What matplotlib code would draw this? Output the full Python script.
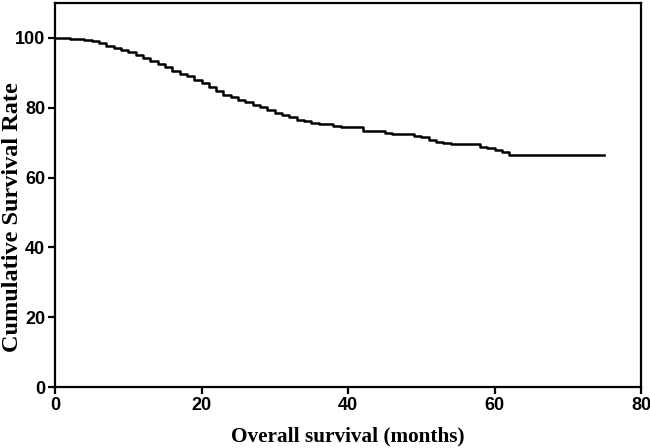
import matplotlib
matplotlib.use("Agg")
import matplotlib.pyplot as plt

# Kaplan-Meier style overall survival curve
months = [0, 2, 4, 5, 6, 7, 8, 9, 10, 11, 12, 13, 14, 15, 16, 17, 18, 19, 20,
          21, 22, 23, 24, 25, 26, 27, 28, 29, 30, 31, 32, 33, 34, 35, 36, 37,
          38, 39, 41, 42, 44, 45, 46, 48, 49, 50, 51, 52, 53, 54, 57, 58, 59,
          60, 61, 62, 75]
survival = [100, 99.8, 99.4, 99.0, 98.4, 97.8, 97.2, 96.5, 96.0, 95.2, 94.2,
            93.4, 92.6, 91.6, 90.6, 89.8, 89.0, 88.0, 87.0, 85.8, 84.7, 83.7,
            83.0, 82.3, 81.6, 80.9, 80.1, 79.3, 78.6, 77.9, 77.3, 76.6, 76.1,
            75.7, 75.4, 75.2, 74.9, 74.4, 74.4, 73.3, 73.3, 72.8, 72.5, 72.4,
            72.0, 71.5, 70.8, 70.2, 69.8, 69.6, 69.6, 68.8, 68.4, 67.8, 67.3,
            66.4, 66.4]

x_ticks = [0, 20, 40, 60, 80]
y_ticks = [0, 20, 40, 60, 80, 100]

tick_font = ["Liberation Sans Narrow", "Liberation Sans", "DejaVu Sans"]
label_font = ["Liberation Serif", "DejaVu Serif"]

fig = plt.figure(figsize=(6.5, 4.48), dpi=100)
ax = fig.add_axes([55 / 650, 1 - 387 / 448, (641 - 55) / 650, (387 - 3) / 448])

ax.step(months, survival, where="post", color="k", linewidth=1.8)

ax.set_xlim(0, 80)
ax.set_ylim(0, 110)
ax.set_xticks(x_ticks)
ax.set_yticks(y_ticks)

for side in ["left", "right", "top", "bottom"]:
    ax.spines[side].set_linewidth(1.6)

ax.tick_params(direction="out", length=5, width=1.6, pad=2)
for lbl in ax.get_xticklabels() + ax.get_yticklabels():
    lbl.set_family(tick_font)
    lbl.set_fontweight("bold")
    lbl.set_fontsize(13)

ax.set_xlabel("Overall survival (months)", family=label_font,
              fontweight="bold", fontsize=15.3)
ax.set_ylabel("Cumulative Survival Rate", family=label_font,
              fontweight="bold", fontsize=17.5)
ax.xaxis.set_label_coords(0.5, -0.102)
ax.yaxis.set_label_coords(-0.054, 0.443)

fig.savefig("out.png", dpi=100)
